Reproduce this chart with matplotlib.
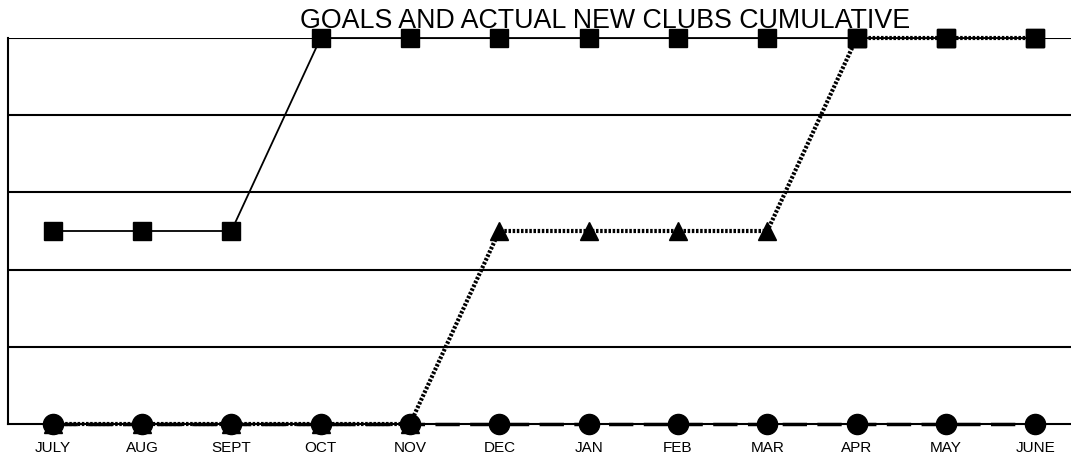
import matplotlib
matplotlib.use("Agg")
import matplotlib.pyplot as plt

months = ["JULY", "AUG", "SEPT", "OCT", "NOV", "DEC", "JAN", "FEB", "MAR", "APR", "MAY", "JUNE"]
goal = [1, 1, 1, 2, 2, 2, 2, 2, 2, 2, 2, 2]
actual = [0, 0, 0, 0, 0, 1, 1, 1, 1, 2, 2, 2]
baseline = [0] * 12
title = "GOALS AND ACTUAL NEW CLUBS CUMULATIVE"

plt.rcParams['font.family'] = ['Liberation Sans', 'DejaVu Sans']
fig = plt.figure(figsize=(10.71, 4.62), dpi=100)
W, H = 1071, 462
ax = fig.add_axes([8 / W, 1 - 424 / H, (1080 - 8) / W, (424 - 38) / H])
x = list(range(len(months)))

for yv in [0.4, 0.8, 1.2, 1.6, 2.0]:
    ax.axhline(yv, color="black", lw=1.5, zorder=1)

ax.plot(x, baseline, color="black", lw=2.5, ls=(0, (7, 3)), clip_on=False, zorder=3)
ax.plot(x, goal, color="black", lw=1.3, marker="s", ms=13, clip_on=False, zorder=4)
ax.plot(x, actual, color="black", lw=3, ls=(0, (0.6, 0.4)), marker="^", ms=12.5,
        clip_on=False, zorder=5)
# markers drawn over where series overlap
ax.plot(x[9:], goal[9:], ls="none", marker="s", ms=13, color="black", clip_on=False, zorder=6)
ax.plot(x, baseline, ls="none", marker="o", ms=14.5, color="black", clip_on=False, zorder=7)

ax.set_xlim(-0.5, 11.5)
ax.set_ylim(0, 2)
ax.set_xticks(x)
ax.set_xticklabels(months, fontsize=11)
ax.tick_params(axis="x", length=0, pad=12)
ax.set_yticks([])
for s in ["top", "right"]:
    ax.spines[s].set_visible(False)
ax.spines["left"].set_linewidth(1.5)
ax.spines["bottom"].set_linewidth(1.5)

fig.text(605 / W, 1 - 21 / H, title, ha="center", va="center", fontsize=19.3)
fig.savefig("out.png", dpi=100)
